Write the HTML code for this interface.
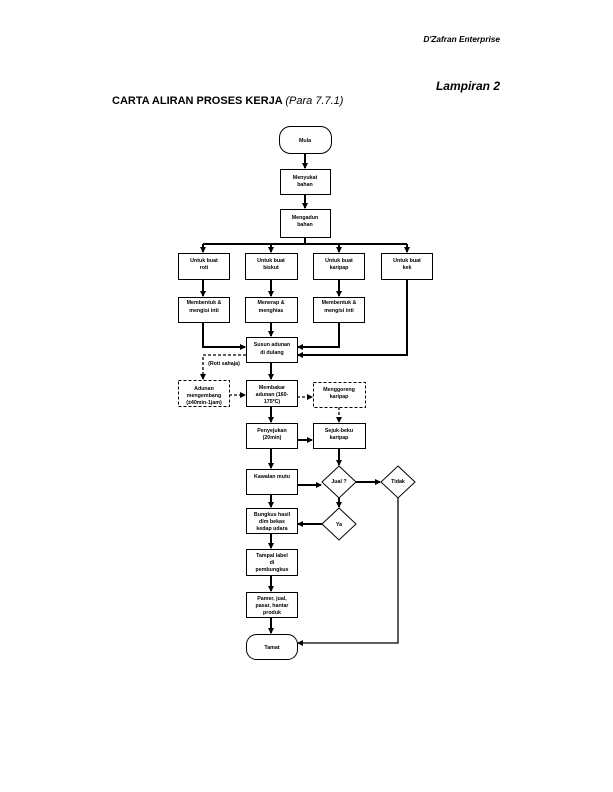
<!DOCTYPE html>
<html><head><meta charset="utf-8"><style>
html,body{margin:0;padding:0;background:#fff;}
svg{display:block;font-family:"Liberation Sans",Arial,sans-serif;}
.b{fill:#fff;stroke:#000;stroke-width:1;}
.d{fill:#fff;stroke:#000;stroke-width:1;stroke-dasharray:3,2;}
.l{stroke:#000;stroke-width:2;fill:none;}
.dl{stroke:#000;stroke-width:1.3;fill:none;stroke-dasharray:3,2;}
.t{font-size:5.3px;font-weight:bold;text-anchor:middle;}
</style></head><body>
<svg width="613" height="792" viewBox="0 0 613 792">
<defs>
<marker id="a" markerWidth="6" markerHeight="6" refX="5" refY="3" orient="auto" markerUnits="userSpaceOnUse"><path d="M0,0 L6,3 L0,6 Z" fill="#000"/></marker>
</defs>
<text x="500" y="42" text-anchor="end" font-size="8.3" font-weight="bold" font-style="italic">D'Zafran Enterprise</text>
<text x="500" y="90" text-anchor="end" font-size="12" font-weight="bold" font-style="italic">Lampiran 2</text>
<text x="112" y="104" font-size="11" font-weight="bold">CARTA ALIRAN PROSES KERJA <tspan font-weight="normal" font-style="italic">(Para 7.7.1)</tspan></text>

<!-- connectors -->
<g class="l">
<line x1="305" y1="153" x2="305" y2="168" marker-end="url(#a)"/>
<line x1="305" y1="194" x2="305" y2="208" marker-end="url(#a)"/>
<line x1="305" y1="237" x2="305" y2="244"/>
<line x1="203" y1="244" x2="407" y2="244"/>
<line x1="203" y1="244" x2="203" y2="252" marker-end="url(#a)"/>
<line x1="271" y1="244" x2="271" y2="252" marker-end="url(#a)"/>
<line x1="339" y1="244" x2="339" y2="252" marker-end="url(#a)"/>
<line x1="407" y1="244" x2="407" y2="252" marker-end="url(#a)"/>
<line x1="203" y1="279" x2="203" y2="296" marker-end="url(#a)"/>
<line x1="271" y1="279" x2="271" y2="296" marker-end="url(#a)"/>
<line x1="339" y1="279" x2="339" y2="296" marker-end="url(#a)"/>
<polyline points="203,322 203,347 245,347" marker-end="url(#a)"/>
<line x1="271" y1="322" x2="271" y2="336" marker-end="url(#a)"/>
<polyline points="339,322 339,347 298,347" marker-end="url(#a)"/>
<polyline points="407,279 407,355 298,355" marker-end="url(#a)"/>
<line x1="271" y1="362" x2="271" y2="379" marker-end="url(#a)"/>
<line x1="271" y1="406" x2="271" y2="422" marker-end="url(#a)"/>
<line x1="297" y1="440" x2="312" y2="440" marker-end="url(#a)"/>
<line x1="271" y1="448" x2="271" y2="468" marker-end="url(#a)"/>
<line x1="339" y1="448" x2="339" y2="465" marker-end="url(#a)"/>
<line x1="297" y1="485" x2="321" y2="485" marker-end="url(#a)"/>
<line x1="356" y1="482" x2="380" y2="482" marker-end="url(#a)"/>
<line x1="339" y1="498" x2="339" y2="507" marker-end="url(#a)"/>
<line x1="271" y1="494" x2="271" y2="507" marker-end="url(#a)"/>
<line x1="322" y1="524" x2="298" y2="524" marker-end="url(#a)"/>
<line x1="271" y1="533" x2="271" y2="548" marker-end="url(#a)"/>
<line x1="271" y1="575" x2="271" y2="591" marker-end="url(#a)"/>
<line x1="271" y1="617" x2="271" y2="633" marker-end="url(#a)"/>
</g>
<polyline points="398,498 398,643 298,643" fill="none" stroke="#000" stroke-width="1.3" marker-end="url(#a)"/>
<g class="dl">
<polyline points="246,355 203,355 203,379" marker-end="url(#a)"/>
<line x1="229" y1="395" x2="245" y2="395" marker-end="url(#a)"/>
<line x1="297" y1="397" x2="312" y2="397" marker-end="url(#a)"/>
<line x1="339" y1="407" x2="339" y2="422" marker-end="url(#a)"/>
</g>

<!-- shapes -->
<rect class="b" x="279.5" y="126.5" width="52" height="27" rx="11"/>
<rect class="b" x="280.5" y="169.5" width="50" height="25"/>
<rect class="b" x="280.5" y="209.5" width="50" height="28"/>
<rect class="b" x="178.5" y="253.5" width="51" height="26"/>
<rect class="b" x="245.5" y="253.5" width="52" height="26"/>
<rect class="b" x="313.5" y="253.5" width="51" height="26"/>
<rect class="b" x="381.5" y="253.5" width="51" height="26"/>
<rect class="b" x="178.5" y="297.5" width="51" height="25"/>
<rect class="b" x="245.5" y="297.5" width="52" height="25"/>
<rect class="b" x="313.5" y="297.5" width="51" height="25"/>
<rect class="b" x="246.5" y="337.5" width="51" height="25"/>
<rect class="d" x="178.5" y="380.5" width="51" height="26"/>
<rect class="b" x="246.5" y="380.5" width="51" height="26"/>
<rect class="d" x="313.5" y="382.5" width="52" height="25"/>
<rect class="b" x="246.5" y="423.5" width="51" height="25"/>
<rect class="b" x="313.5" y="423.5" width="52" height="25"/>
<rect class="b" x="246.5" y="469.5" width="51" height="25"/>
<rect class="b" x="246.5" y="508.5" width="51" height="25"/>
<rect class="b" x="246.5" y="549.5" width="51" height="26"/>
<rect class="b" x="246.5" y="592.5" width="51" height="25"/>
<rect class="b" x="246.5" y="634.5" width="51" height="25" rx="10"/>
<polygon class="b" points="339,466 356,482 339,498 322,482"/>
<polygon class="b" points="398,466 415,482 398,498 381,482"/>
<polygon class="b" points="339,508 356,524 339,540 322,524"/>

<!-- labels -->
<g class="t">
<text x="305" y="142">Mula</text>
<text x="305" y="179">Menyukat</text><text x="305" y="186">bahan</text>
<text x="305" y="219">Mengadun</text><text x="305" y="226">bahan</text>
<text x="204" y="262">Untuk buat</text><text x="204" y="269">roti</text>
<text x="271" y="262">Untuk buat</text><text x="271" y="269">biskut</text>
<text x="339" y="262">Untuk buat</text><text x="339" y="269">karipap</text>
<text x="407" y="262">Untuk buat</text><text x="407" y="269">kek</text>
<text x="204" y="304">Membentuk &amp;</text><text x="204" y="312">mengisi inti</text>
<text x="271" y="304">Menerap &amp;</text><text x="271" y="312">menghias</text>
<text x="339" y="304">Membentuk &amp;</text><text x="339" y="312">mengisi inti</text>
<text x="272" y="346">Susun adunan</text><text x="272" y="354">di dulang</text>
<text x="224" y="365">(Roti sahaja)</text>
<text x="204" y="390">Adunan</text><text x="204" y="397">mengembang</text><text x="204" y="404">(±40min-1jam)</text>
<text x="272" y="389">Membakar</text><text x="272" y="396">adunan (160-</text><text x="272" y="403">175ºC)</text>
<text x="339" y="391">Menggoreng</text><text x="339" y="398">karipap</text>
<text x="272" y="432">Penyejukan</text><text x="272" y="439">(20min)</text>
<text x="339" y="432">Sejuk-beku</text><text x="339" y="439">karipap</text>
<text x="272" y="478">Kawalan mutu</text>
<text x="339" y="483">Jual ?</text>
<text x="398" y="483">Tidak</text>
<text x="339" y="526">Ya</text>
<text x="272" y="516">Bungkus hasil</text><text x="272" y="523">dlm bekas</text><text x="272" y="530">kedap udara</text>
<text x="272" y="557">Tampal label</text><text x="272" y="564">di</text><text x="272" y="571">pembungkus</text>
<text x="272" y="600">Pamer, jual,</text><text x="272" y="607">pasar, hantar</text><text x="272" y="614">produk</text>
<text x="272" y="649">Tamat</text>
</g>
</svg>
</body></html>
